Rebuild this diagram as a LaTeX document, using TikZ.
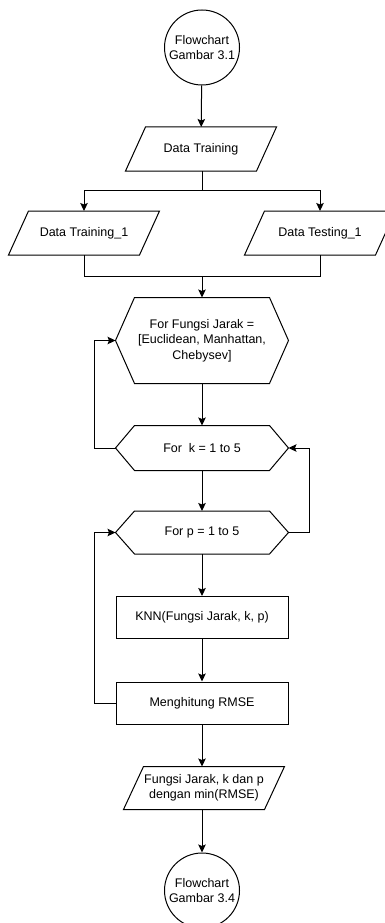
\documentclass[tikz,border=0pt]{standalone}
\usepackage{fontspec}
\setmainfont{Liberation Sans}
\usetikzlibrary{arrows.meta}

\begin{document}
\begin{tikzpicture}[x=1pt,y=-1pt,line width=1pt,
   every node/.style={font=\fontsize{12.5}{15.5}\selectfont, inner sep=0pt, align=center},
   termbox/.style={circle, draw, minimum size=75},
   iobox/.style={rectangle, minimum width=150, minimum height=43},
   hexbox/.style={rectangle, minimum width=172, minimum height=44},
   procbox/.style={rectangle, draw, minimum width=172, minimum height=42}]
   \tikzstyle{line} = [draw, -{Stealth[length=8pt,width=7.5pt,inset=1.5pt]}]
   \useasboundingbox (0,0) rectangle (385,923);

   \node[termbox] (start) at (202,47.5) {Flowchart\\Gambar 3.1};
   \node[iobox] (dtrain) at (201,149) {Data Training};
   \node[iobox] (dtrainA) at (84,233) {Data Training\_1};
   \node[iobox] (dtestA) at (320,233) {Data Testing\_1};
   \node[hexbox, minimum height=85] (hexa) at (202,340.5) {For Fungsi Jarak =\\{[Euclidean, Manhattan,}\\Chebysev]};
   \node[hexbox] (hexb) at (202,448) {For\ \ k = 1 to 5};
   \node[hexbox, minimum height=42] (hexc) at (202,532.5) {For p = 1 to 5};
   \node[procbox] (knn) at (202,617.5) {KNN(Fungsi Jarak, k, p)};
   \node[procbox] (rmse) at (202,703) {Menghitung RMSE};
   \node[iobox, minimum width=160, minimum height=42] (result) at (204,788) {Fungsi Jarak, k dan p\\dengan min(RMSE)};
   \node[termbox] (stop) at (202,890.5) {Flowchart\\Gambar 3.4};

   \coordinate (split) at (202,190);
   \coordinate (merge) at (202,276);

   % outlines
   \foreach \n in {dtrain,dtrainA,dtestA,result}
     \draw (\n.south west) -- ([xshift=20]\n.north west) -- (\n.north east)
       -- ([xshift=-20]\n.south east) -- cycle;
   \foreach \n in {hexa,hexb,hexc}
     \draw (\n.west) -- ([xshift=19]\n.north west) -- ([xshift=-19]\n.north east)
       -- (\n.east) -- ([xshift=-19]\n.south east) -- ([xshift=19]\n.south west) -- cycle;

   \path [line] (start) -- (dtrain);
   \draw (dtrain.south -| split) -- (split);
   \path [line] (split) -| (dtrainA);
   \path [line] (split) -| (dtestA);
   \draw (dtrainA) |- (merge);
   \draw (dtestA) |- (merge);
   \path [line] (merge) -- (hexa);

   \path [line] (hexa) -- (hexb);
   \path [line] (hexb) -- (hexc);
   \path [line] (hexc) -- (knn);
   \path [line] (knn) -- (rmse);
   \path [line] (rmse) -- (result.north -| rmse);
   \path [line] (result.south -| stop) -- (stop);

   % loops
   \path [line] (hexb.west) -- ++(-21,0) |- (hexa.west);
   \path [line] (hexc.east) -- ++(21,0) |- (hexb.east);
   \path [line] (rmse.west) -- ++(-21,0) |- (hexc.west);

 \end{tikzpicture}
\end{document}
